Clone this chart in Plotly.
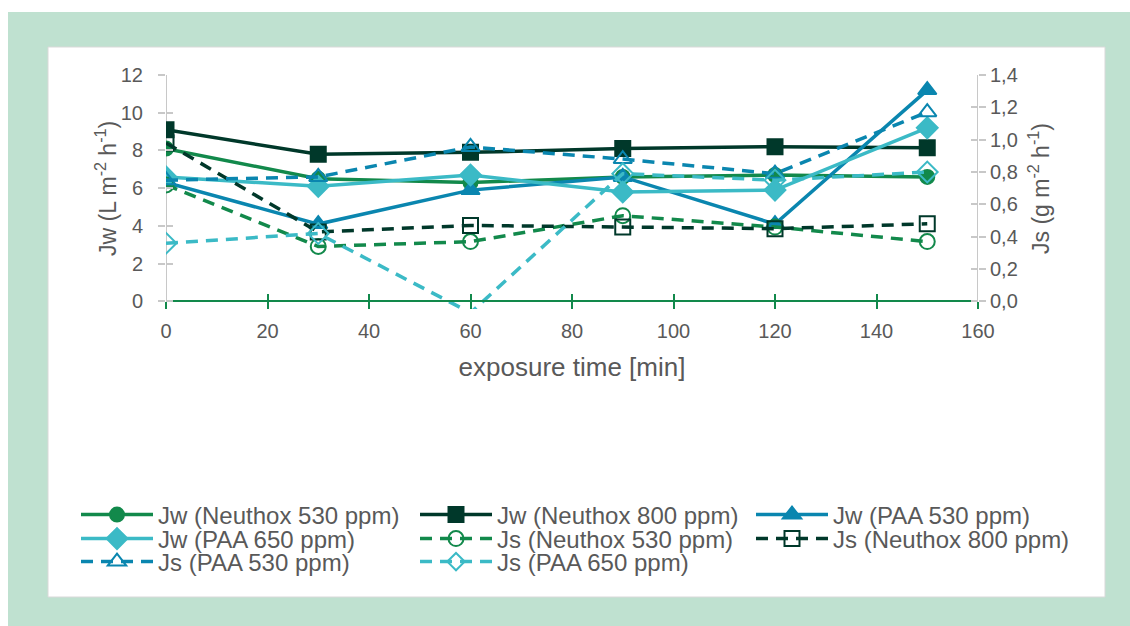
import plotly.graph_objects as go

# exposure time [min]
time_min = [0, 30, 60, 90, 120, 150]

# water flux Jw [L m-2 h-1] (left axis)
jw_neuthox_530 = [8.1, 6.5, 6.3, 6.6, 6.7, 6.6]
jw_neuthox_800 = [9.1, 7.8, 7.9, 8.1, 8.2, 8.15]
jw_paa_530 = [6.3, 4.1, 5.9, 6.6, 4.1, 11.2]
jw_paa_650 = [6.6, 6.1, 6.7, 5.8, 5.9, 9.2]

# reverse solute flux Js [g m-2 h-1] (right axis)
js_neuthox_530 = [0.72, 0.34, 0.37, 0.53, 0.46, 0.37]
js_neuthox_800 = [0.98, 0.43, 0.47, 0.46, 0.45, 0.48]
js_paa_530 = [0.75, 0.77, 0.955, 0.88, 0.79, 1.17]
js_paa_650 = [0.36, 0.42, -0.07, 0.79, 0.75, 0.80]

x_ticks = [0, 20, 40, 60, 80, 100, 120, 140, 160]
jw_ticks = [0, 2, 4, 6, 8, 10, 12]
js_ticks = [0.0, 0.2, 0.4, 0.6, 0.8, 1.0, 1.2, 1.4]
js_tick_text = ["0,0", "0,2", "0,4", "0,6", "0,8", "1,0", "1,2", "1,4"]

GREEN = "#12894b"
DARK = "#00382a"
BLUE = "#0a86af"
CYAN = "#3bbac6"
TEXT = "#595959"
AXIS_GREY = "#c8c8c8"
FONT = "Liberation Sans, Arial, sans-serif"

W, H = 1130, 626
L, R, T, B = 166, 152, 75, 317
PW, PH = W - L - R, H - T - B

JW_MIN, JW_MAX = -0.4, 12
JS_MIN, JS_MAX = JW_MIN * 1.4 / 12, 1.4


def px_x(p):
    return (p - L) / PW


def px_y(p):
    return (H - B - p) / PH


# legend slots (column left edge, row centre) in pixels, Excel-style 3-column grid
COL_X = [76, 415, 751]
ROW_Y = [515, 539, 562]

series = [
    # name, values, axis, colour, symbol, size, dash
    ("Jw (Neuthox 530 ppm)", jw_neuthox_530, "y", GREEN, "circle", 14, "solid"),
    ("Jw (Neuthox 800 ppm)", jw_neuthox_800, "y", DARK, "square", 15, "solid"),
    ("Jw (PAA 530 ppm)", jw_paa_530, "y", BLUE, "triangle-up", 16, "solid"),
    ("Jw (PAA 650 ppm)", jw_paa_650, "y", CYAN, "diamond", 16, "solid"),
    ("Js (Neuthox 530 ppm)", js_neuthox_530, "y2", GREEN, "circle-open", 15, "12px,8px"),
    ("Js (Neuthox 800 ppm)", js_neuthox_800, "y2", DARK, "square-open", 15, "12px,8px"),
    ("Js (PAA 530 ppm)", js_paa_530, "y2", BLUE, "triangle-up-open", 16, "12px,8px"),
    ("Js (PAA 650 ppm)", js_paa_650, "y2", CYAN, "diamond-open", 16, "12px,8px"),
]

fig = go.Figure()
legend_layouts = {}

for i, (name, vals, yax, col, sym, size, dash) in enumerate(series):
    # points that fall below the axis are drawn without a marker
    sizes = [size if v >= 0 else 0 for v in vals]
    leg_id = "legend" if i == 0 else f"legend{i + 1}"
    fig.add_trace(go.Scatter(
        x=time_min, y=vals, name=name, mode="lines+markers",
        line=dict(color=col, width=3.5, dash=dash),
        marker=dict(symbol=sym, size=sizes, color=col, opacity=1,
                    line=dict(color=col, width=2)),
        xaxis="x", yaxis=yax, legend=leg_id,
    ))
    row, colm = divmod(i, 3)
    legend_layouts[leg_id] = dict(
        x=px_x(COL_X[colm]), y=px_y(ROW_Y[row]), xanchor="left", yanchor="middle",
        font=dict(family=FONT, size=24, color=TEXT), itemwidth=72,
        bgcolor="rgba(0,0,0,0)", borderwidth=0,
    )

# empty helper traces so the inside-tick overlay axes are drawn
for xa, ya in [("x2", "y"), ("x", "y3"), ("x", "y4")]:
    fig.add_trace(go.Scatter(x=[], y=[], xaxis=xa, yaxis=ya, showlegend=False,
                             hoverinfo="skip"))

zero_pos = (0 - JW_MIN) / (JW_MAX - JW_MIN)

tick_font = dict(family=FONT, size=20, color=TEXT)
title_font = dict(family=FONT, size=26, color=TEXT)
ytitle_font = dict(family=FONT, size=23, color=TEXT)

fig.update_layout(
    width=W, height=H,
    margin=dict(l=L, r=R, t=T, b=B, autoexpand=False),
    paper_bgcolor="white",
    plot_bgcolor="rgba(0,0,0,0)",
    font=dict(family=FONT, color=TEXT),
    showlegend=True,
    xaxis=dict(
        range=[0, 160], tickvals=x_ticks, ticktext=[str(v) for v in x_ticks],
        anchor="free", position=zero_pos,
        showline=True, linecolor=GREEN, linewidth=2,
        ticks="outside", ticklen=7, tickwidth=2, tickcolor=GREEN,
        ticklabelstandoff=5,
        showgrid=False, zeroline=False, tickfont=tick_font,
        title=dict(text="exposure time [min]", font=title_font, standoff=15),
    ),
    xaxis2=dict(
        range=[0, 160], tickvals=x_ticks, overlaying="x",
        anchor="free", position=zero_pos, showline=False,
        ticks="inside", ticklen=7, tickwidth=2, tickcolor=GREEN,
        showticklabels=False, showgrid=False, zeroline=False,
    ),
    yaxis=dict(
        range=[JW_MIN, JW_MAX], tickvals=jw_ticks, ticktext=[str(v) for v in jw_ticks],
        showline=False, ticks="outside", ticklen=7, tickwidth=2, tickcolor=AXIS_GREY,
        ticklabelstandoff=11,
        showgrid=False, zeroline=False, tickfont=tick_font,
    ),
    yaxis2=dict(
        range=[JS_MIN, JS_MAX], tickvals=js_ticks, ticktext=js_tick_text,
        overlaying="y", side="right", anchor="x",
        showline=False, ticks="outside", ticklen=7, tickwidth=2, tickcolor=AXIS_GREY,
        showgrid=False, zeroline=False, tickfont=tick_font,
    ),
    yaxis3=dict(
        range=[JW_MIN, JW_MAX], tickvals=jw_ticks, overlaying="y", side="left",
        anchor="x", showline=False, ticks="inside", ticklen=7, tickwidth=2,
        tickcolor=AXIS_GREY, showticklabels=False, showgrid=False, zeroline=False,
    ),
    yaxis4=dict(
        range=[JS_MIN, JS_MAX], tickvals=js_ticks, overlaying="y", side="right",
        anchor="x", showline=False, ticks="inside", ticklen=7, tickwidth=2,
        tickcolor=AXIS_GREY, showticklabels=False, showgrid=False, zeroline=False,
    ),
    **legend_layouts,
)

# value-axis titles, rotated, set beside the tick labels
fig.add_annotation(text="Jw (L m<sup>-2</sup> h<sup>-1</sup>)", textangle=-90,
                   xref="paper", yref="paper", x=px_x(106), y=px_y(189),
                   xanchor="center", yanchor="middle", showarrow=False, font=ytitle_font)
fig.add_annotation(text="Js (g m<sup>-2</sup> h<sup>-1</sup>)", textangle=-90,
                   xref="paper", yref="paper", x=px_x(1039), y=px_y(189),
                   xanchor="center", yanchor="middle", showarrow=False, font=ytitle_font)

# framed panel: mint border around a white card
fig.add_shape(type="rect", xref="paper", yref="paper", layer="below",
              x0=px_x(8), x1=px_x(W + 2), y0=px_y(H + 2), y1=px_y(12),
              fillcolor="#bfe1d0", line=dict(width=0))
fig.add_shape(type="rect", xref="paper", yref="paper", layer="below",
              x0=px_x(48), x1=px_x(1105), y0=px_y(597), y1=px_y(47),
              fillcolor="white", line=dict(color="#d9d9d9", width=1))

# vertical value-axis lines from 0 to the top of the scale
for xv in (0, 160):
    fig.add_shape(type="line", xref="x", yref="y", x0=xv, x1=xv, y0=0, y1=JW_MAX,
                  line=dict(color=AXIS_GREY, width=2), layer="below")

fig.write_html("out.html")
